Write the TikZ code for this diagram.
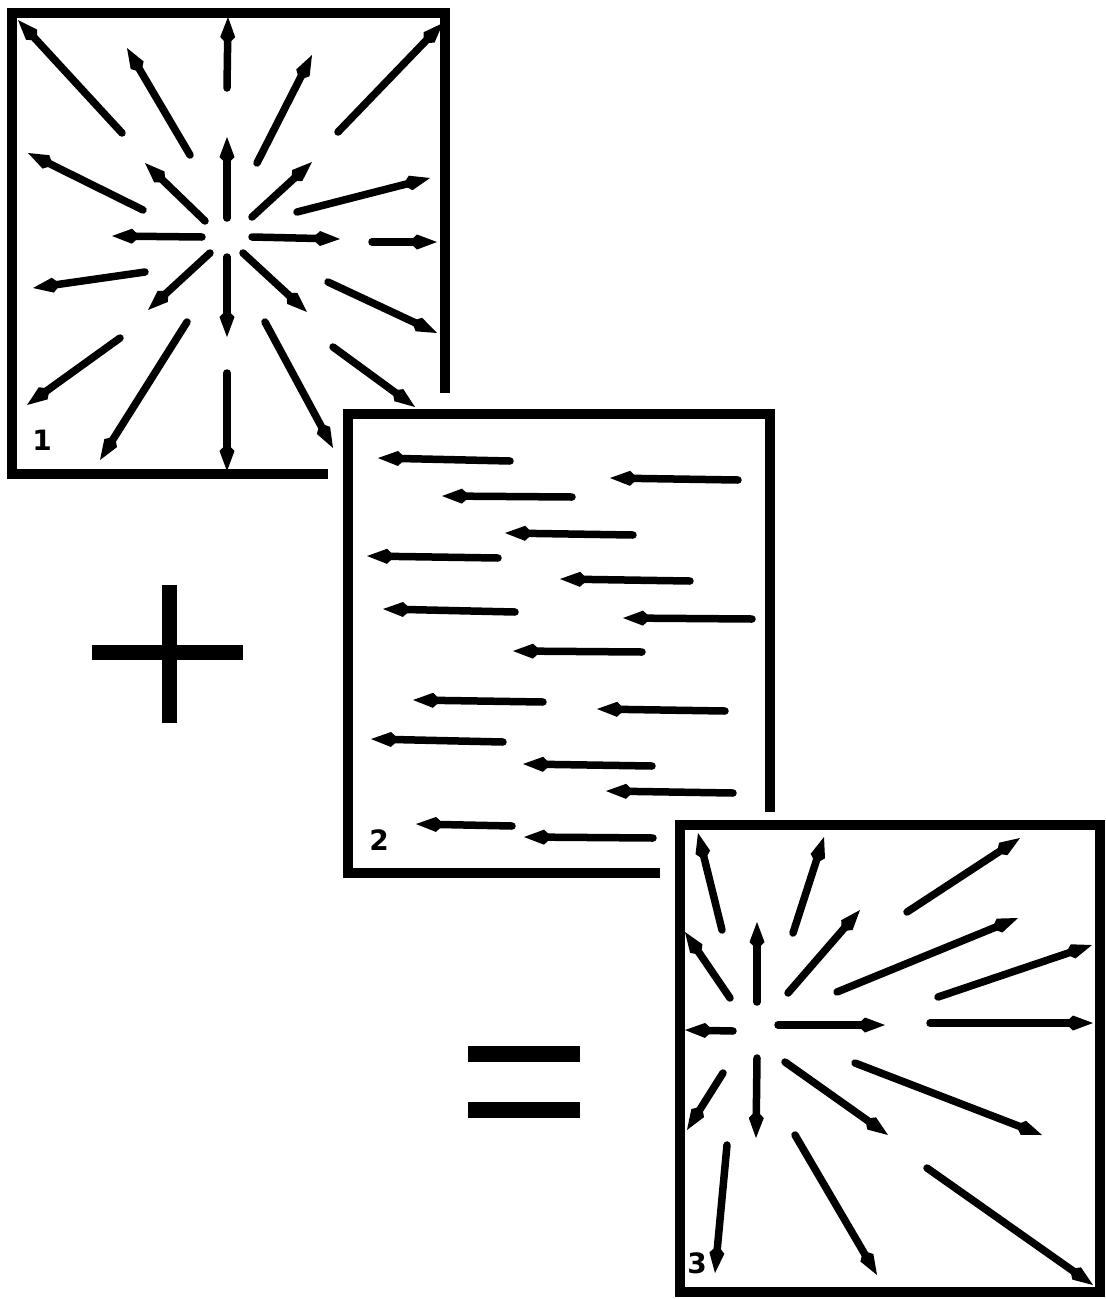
\documentclass[tikz,border=0pt]{standalone}
\usepackage{fontspec}
\setmainfont{DejaVu Sans}
\usetikzlibrary{arrows.meta}
\tikzset{
  frameline/.style={line width=10pt, line join=miter, line cap=butt},
  vec/.style={line width=7.5pt, line cap=round, -{Kite[length=28pt, width=15pt, inset=8pt]}},
  bar/.style={line width=15pt, line cap=butt},
  panellabel/.style={font=\bfseries\fontsize{28}{28}\selectfont, inner sep=0pt}
}
\begin{document}
\begin{tikzpicture}[x=1pt, y=-1pt]
\useasboundingbox (0,0) rectangle (1106,1299);
% Panel 1 frame
\draw[frameline] (445,393) -- (445,13) -- (12,13) -- (12,474) -- (328,474);
\node[panellabel] (l1) at (42,440) {1};
\foreach \a/\b/\c/\d in {
  122/133/18/20, 190/155/127/48, 227/88/228/17, 257/163/312/55, 338/132/443/23,
  143/210/28/153, 205/221/145/163, 227/218/227/137, 252/217/312/162, 297/212/430/178,
  202/237/112/236, 252/237/340/239, 372/242/437/242,
  145/272/33/288, 210/253/148/310, 227/257/227/337, 243/253/307/312, 328/282/437/333,
  120/338/27/405, 187/322/100/460, 227/373/227/471, 265/322/333/448, 333/347/415/407}
  \draw[vec] (\a,\b) -- (\c,\d);
% Panel 2 frame
\draw[frameline] (770,812) -- (770,414) -- (348,414) -- (348,873) -- (660,873);
\node[panellabel] (l2) at (379,840) {2};
\foreach \a/\b/\c/\d in {
  510/461/378/458, 738/480/610/478, 572/497/442/496, 633/535/505/533,
  498/558/367/556, 690/581/560/579, 515/612/383/609, 752/619/623/618,
  642/652/513/651, 543/702/413/700, 725/711/597/709, 503/742/371/739,
  652/766/523/764, 733/793/606/791, 512/826/416/824, 653/838/524/837}
  \draw[vec] (\a,\b) -- (\c,\d);
% Panel 3 frame
\draw[frameline] (680,825) rectangle (1100,1292);
\node[panellabel] (l3) at (697,1263) {3};
\foreach \a/\b/\c/\d in {
  722/930/698/833, 793/933/824/837, 907/912/1020/838, 730/998/685/932,
  757/1002/757/922, 788/993/860/910, 837/992/1018/918, 938/997/1092/945,
  733/1031/685/1030, 778/1025/885/1025, 930/1023/1093/1023,
  723/1073/687/1130, 757/1058/756/1138, 785/1062/888/1135, 855/1063/1042/1135,
  727/1145/715/1273, 795/1135/877/1275, 927/1168/1093/1285}
  \draw[vec] (\a,\b) -- (\c,\d);
% plus
\draw[bar] (169.5,585) -- (169.5,723);
\draw[bar] (92,652) -- (243,652);
% equals
\draw[line width=16pt] (468,1054) -- (580,1054);
\draw[line width=16pt] (468,1110) -- (580,1110);
\end{tikzpicture}
\end{document}
